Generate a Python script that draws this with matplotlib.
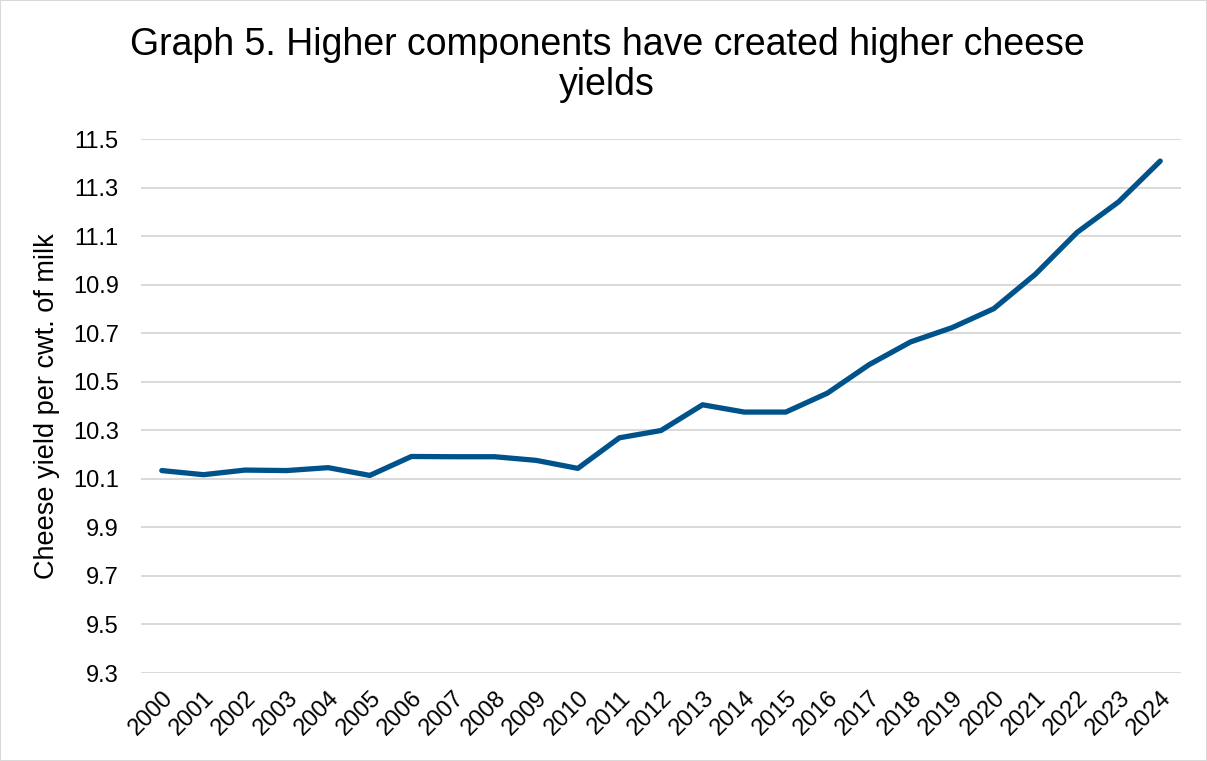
import matplotlib
matplotlib.use("Agg")
import matplotlib.pyplot as plt
from matplotlib.patches import Rectangle

years = [str(y) for y in range(2000, 2025)]
cheese_yield = [10.134, 10.117, 10.136, 10.134, 10.146, 10.114, 10.192, 10.191,
                10.191, 10.176, 10.143, 10.269, 10.299, 10.405, 10.375, 10.375,
                10.453, 10.570, 10.664, 10.723, 10.801, 10.943, 11.115, 11.241,
                11.409]
y_ticks = [9.3, 9.5, 9.7, 9.9, 10.1, 10.3, 10.5, 10.7, 10.9, 11.1, 11.3, 11.5]
title_lines = ['Graph 5. Higher components have created higher cheese', 'yields']
y_title = 'Cheese yield per cwt. of milk'

plt.rcParams['font.family'] = ['Liberation Sans', 'DejaVu Sans']

W, H = 1207, 761
fig = plt.figure(figsize=(W / 100, H / 100), dpi=100)
ax = fig.add_axes([141 / W, 1 - 673 / H, 1040 / W, 534 / H])

x = list(range(len(years)))
ax.plot(x, cheese_yield, color='#00538A', linewidth=3.8,
        solid_joinstyle='round', solid_capstyle='round', zorder=3)

ax.set_xlim(-0.5, len(years) - 0.5)
ax.set_ylim(9.3, 11.5)
ax.set_yticks(y_ticks)
ax.set_yticklabels([f"{v:.1f}" for v in y_ticks], fontsize=17)
ax.set_xticks(x)
ax.set_xticklabels(years, fontsize=17, rotation=45, ha='right',
                   rotation_mode='anchor')
ax.tick_params(axis='both', length=0, colors='black')
ax.tick_params(axis='y', pad=16)
ax.tick_params(axis='x', pad=10)
ax.grid(axis='y', color='#D9D9D9', linewidth=1.4)
ax.set_axisbelow(True)
for s in ax.spines.values():
    s.set_visible(False)

# vertical axis title
fig.text(47 / W, 1 - 406.5 / H, y_title, rotation=90, ha='center', va='center',
         fontsize=19.5)

# two-line chart title, each line placed on its own baseline
fig.text(607 / W, 1 - 55 / H, title_lines[0], ha='center', va='baseline', fontsize=27)
fig.text(607 / W, 1 - 95 / H, title_lines[1], ha='center', va='baseline', fontsize=27)

fig.patches.append(Rectangle((0, 0), 1, 1, transform=fig.transFigure,
                             fill=False, edgecolor='#D9D9D9', linewidth=1.5))

fig.savefig('out.png', dpi=100)
